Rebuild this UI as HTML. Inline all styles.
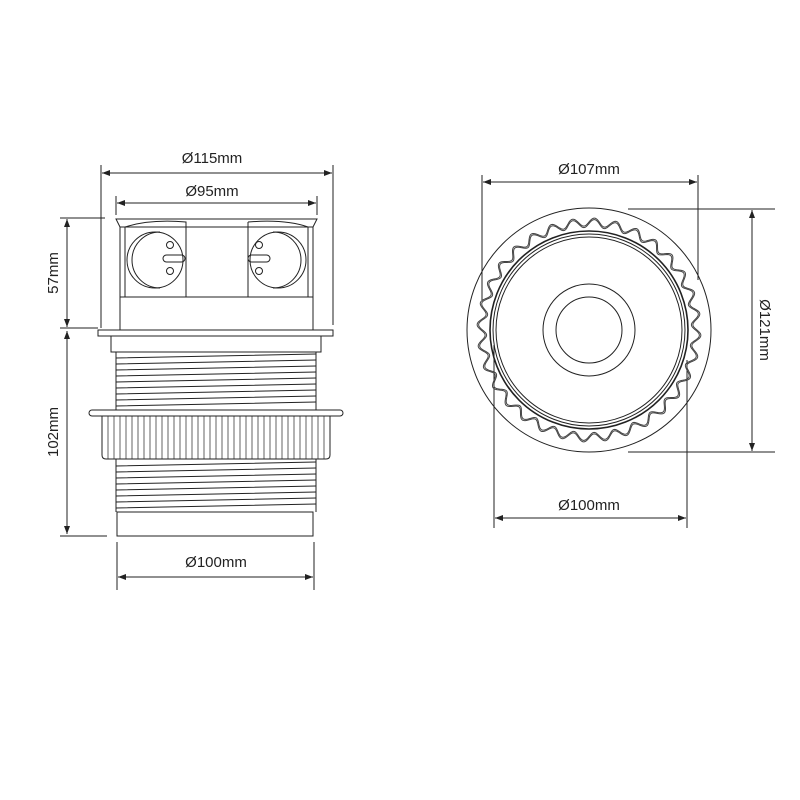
<!DOCTYPE html>
<html><head><meta charset="utf-8"><style>
html,body{margin:0;padding:0;background:#fff;width:800px;height:800px;overflow:hidden}
text{font-family:"Liberation Sans",sans-serif;font-size:15px;fill:#222}
</style></head><body>
<svg id="s" width="800" height="800" viewBox="0 0 800 800" xmlns="http://www.w3.org/2000/svg">
<defs>
<marker id="a" markerWidth="8" markerHeight="6" refX="8" refY="3" orient="auto-start-reverse"><path d="M0,0L8,3L0,6z" fill="#222"/></marker>
</defs>
<g stroke="#222" stroke-width="1" fill="none">
<line x1="101" y1="165" x2="101" y2="328"/>
<line x1="333" y1="165" x2="333" y2="325"/>
<line x1="102" y1="173" x2="332" y2="173" marker-start="url(#a)" marker-end="url(#a)"/>
<line x1="116" y1="196" x2="116" y2="215"/>
<line x1="317" y1="196" x2="317" y2="215"/>
<line x1="117" y1="203" x2="316" y2="203" marker-start="url(#a)" marker-end="url(#a)"/>
<line x1="60" y1="218" x2="105" y2="218"/>
<line x1="60" y1="328" x2="98" y2="328"/>
<line x1="67" y1="219" x2="67" y2="327" marker-start="url(#a)" marker-end="url(#a)"/>
<line x1="67" y1="331" x2="67" y2="534" marker-start="url(#a)" marker-end="url(#a)"/>
<line x1="60" y1="536" x2="107" y2="536"/>
<line x1="117" y1="542" x2="117" y2="590"/>
<line x1="314" y1="542" x2="314" y2="590"/>
<line x1="118" y1="577" x2="313" y2="577" marker-start="url(#a)" marker-end="url(#a)"/>
<path d="M116,219 L317,219 L313,227 L120,227 Z"/>
<path d="M120,227 L120,297 M313,227 L313,297"/>
<path d="M125,227 L125,297 M308,227 L308,297"/>
<path d="M125,227 Q150,219 186,222 L186,297 M248,222 Q285,219 308,227 M248,222 L248,297"/>
<rect x="120" y="297" width="193" height="33"/>
<rect x="98" y="330" width="235" height="6"/>
<rect x="111" y="336" width="210" height="16"/>
<circle cx="155" cy="260" r="28"/>
<path d="M160,232 A28,28 0 0 0 160,288"/>
<circle cx="170" cy="245" r="3.5"/><circle cx="170" cy="271" r="3.5"/>
<rect x="163" y="255" width="22" height="7" rx="3.5"/>
<circle cx="278" cy="260" r="28"/>
<path d="M273,232 A28,28 0 0 1 273,288"/>
<circle cx="259" cy="245" r="3.5"/><circle cx="259" cy="271" r="3.5"/>
<rect x="248" y="255" width="22" height="7" rx="3.5"/>
<path d="M116,352 L116,410 M316,352 L316,410"/>
<path d="M116,358 L316,354 M116,364 L316,360 M116,370 L316,366 M116,376 L316,372 M116,382 L316,378 M116,388 L316,384 M116,394 L316,390 M116,400 L316,396 M116,406 L316,402"/>
<rect x="89" y="410" width="254" height="6" rx="3"/>
<path d="M102,416 L102,455 Q102,459 106,459 L326,459 Q330,459 330,455 L330,416"/>
<path stroke-width="0.7" d="M108,416V459M114,416V459M120,416V459M126,416V459M132,416V459M138,416V459M144,416V459M150,416V459M156,416V459M162,416V459M168,416V459M174,416V459M180,416V459M186,416V459M192,416V459M198,416V459M204,416V459M210,416V459M216,416V459M222,416V459M228,416V459M234,416V459M240,416V459M246,416V459M252,416V459M258,416V459M264,416V459M270,416V459M276,416V459M282,416V459M288,416V459M294,416V459M300,416V459M306,416V459M312,416V459M318,416V459M324,416V459"/>
<path d="M116,459 L116,512 M316,459 L316,512"/>
<path d="M116,466 L316,462 M116,472 L316,468 M116,478 L316,474 M116,484 L316,480 M116,490 L316,486 M116,496 L316,492 M116,502 L316,498 M116,508 L316,504"/>
<rect x="117" y="512" width="196" height="24"/>
<line x1="482" y1="175" x2="482" y2="300"/>
<line x1="698" y1="175" x2="698" y2="280"/>
<line x1="483" y1="182" x2="697" y2="182" marker-start="url(#a)" marker-end="url(#a)"/>
<line x1="628" y1="209" x2="775" y2="209"/>
<line x1="628" y1="452" x2="775" y2="452"/>
<line x1="752" y1="210" x2="752" y2="451" marker-start="url(#a)" marker-end="url(#a)"/>
<line x1="494" y1="345" x2="494" y2="528"/>
<line x1="687" y1="360" x2="687" y2="528"/>
<line x1="495" y1="518" x2="686" y2="518" marker-start="url(#a)" marker-end="url(#a)"/>
<circle cx="589" cy="330" r="122"/>
<circle cx="589" cy="330" r="99" stroke-width="1.6"/>
<circle cx="589" cy="330" r="96"/>
<circle cx="589" cy="330" r="93"/>
<circle cx="589" cy="330" r="46"/>
<circle cx="589" cy="330" r="33"/>
<path id="w1" stroke="#444"/>
<path id="w2" stroke="#444"/>
</g>
<text x="212" y="163" text-anchor="middle">Ø115mm</text>
<text x="212" y="196" text-anchor="middle">Ø95mm</text>
<text x="216" y="567" text-anchor="middle">Ø100mm</text>
<text x="589" y="174" text-anchor="middle">Ø107mm</text>
<text x="589" y="510" text-anchor="middle">Ø100mm</text>
<text transform="translate(58,273) rotate(-90)" text-anchor="middle">57mm</text>
<text transform="translate(58,432) rotate(-90)" text-anchor="middle">102mm</text>
<text transform="translate(760,330) rotate(90)" text-anchor="middle">Ø121mm</text>
</svg>
<script>
function wave(r){var d="",n=720;for(var i=0;i<=n;i++){var t=i/n*2*Math.PI;var rr=r+4*Math.sin(t*32);d+=(i?"L":"M")+(589+rr*Math.cos(t)).toFixed(2)+","+(330+rr*Math.sin(t)).toFixed(2);}return d+"Z";}
document.getElementById("w1").setAttribute("d",wave(108));
document.getElementById("w2").setAttribute("d",wave(106.5));
</script>
</body></html>
